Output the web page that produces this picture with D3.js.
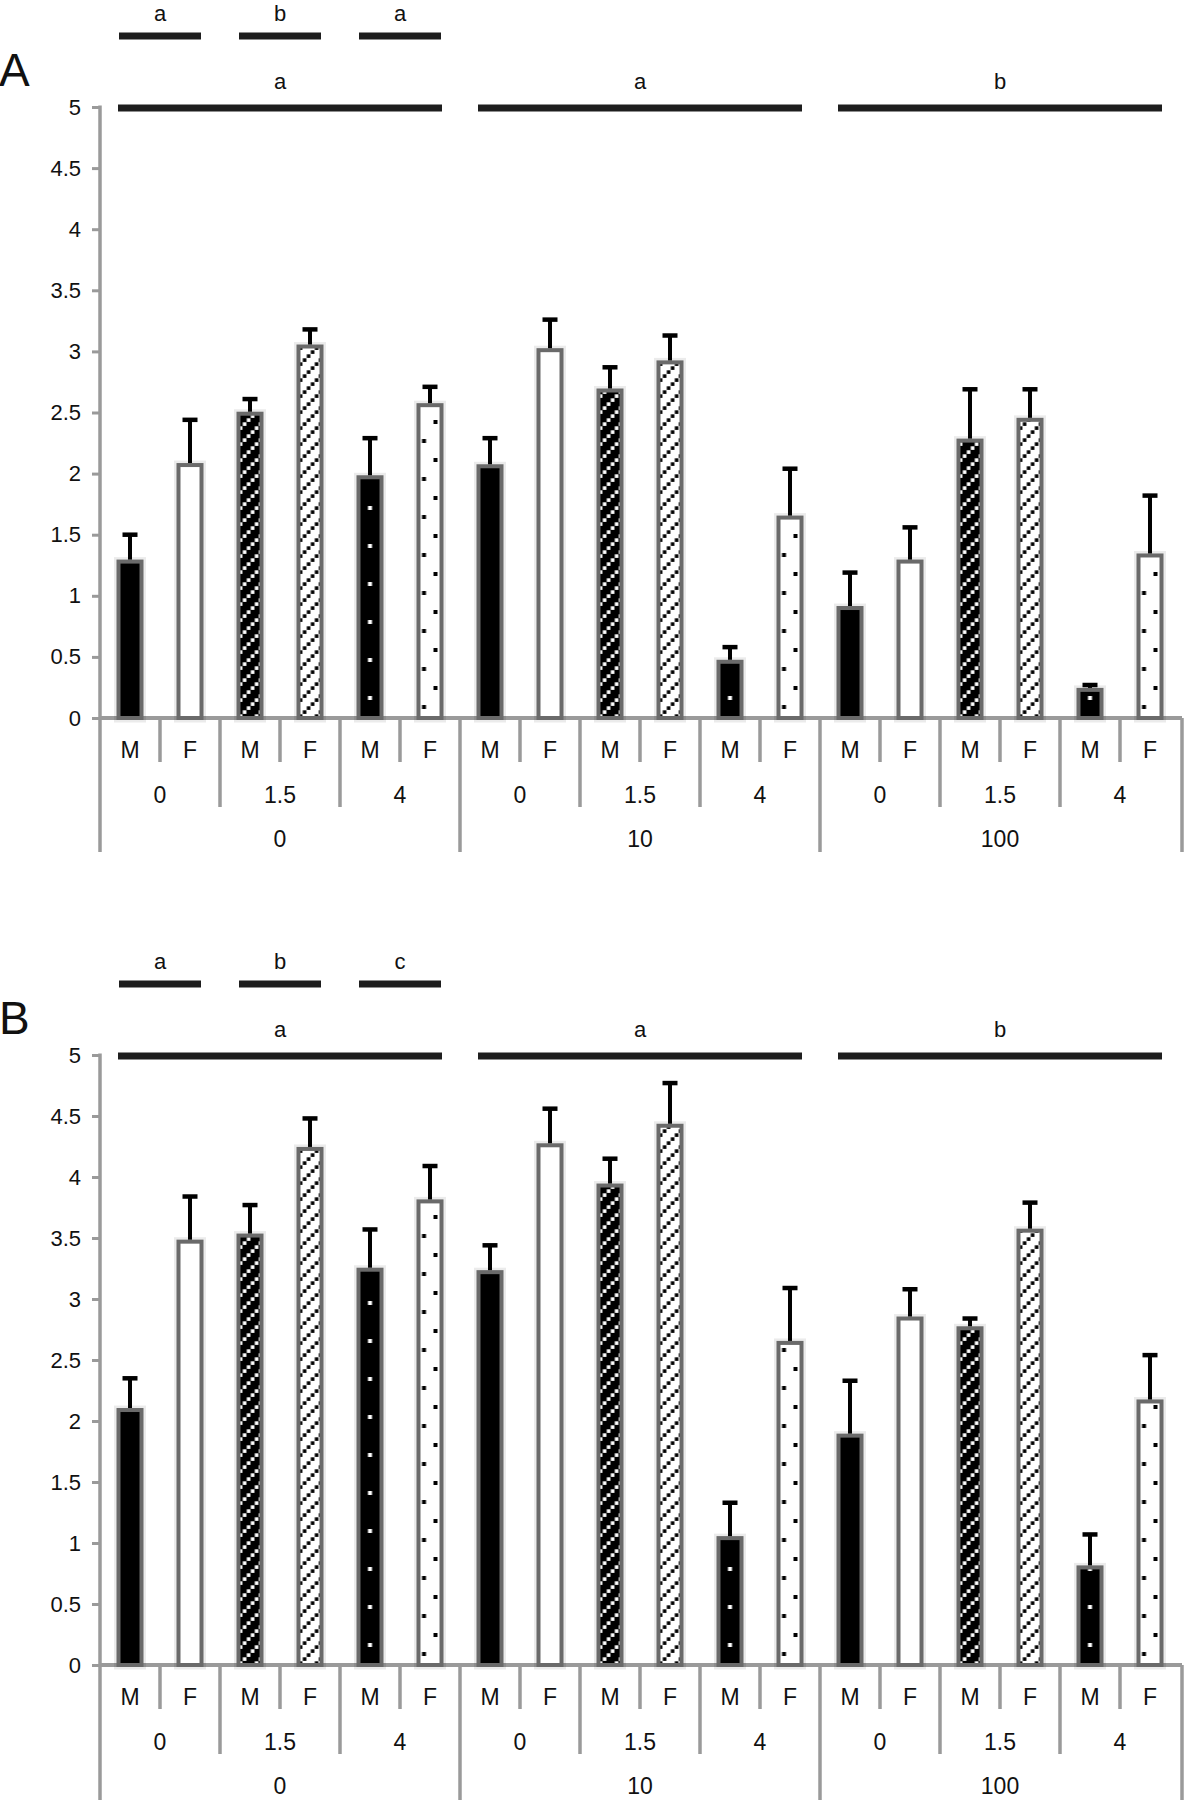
<!DOCTYPE html>
<html>
<head>
<meta charset="utf-8">
<script src="https://cdn.jsdelivr.net/npm/d3@7"></script>
<style>
  body { margin: 0; background: #fff; }
  text { font-family: "Liberation Sans", Arial, Helvetica, sans-serif; fill: #111; }
</style>
</head>
<body>
<svg id="chart" width="1188" height="1800"></svg>
<script>
// categories
const groups = ["0", "10", "100"];
const subgroups = ["0", "1.5", "4"];
const sexes = ["M", "F"];

// panel A: means and SE
const meanA = [1.28, 2.07, 2.49, 3.04, 1.97, 2.56,  2.06, 3.01, 2.68, 2.91, 0.46, 1.64,  0.90, 1.28, 2.27, 2.44, 0.23, 1.33];
const seA   = [0.22, 0.37, 0.12, 0.14, 0.32, 0.15,  0.23, 0.25, 0.19, 0.22, 0.12, 0.40,  0.29, 0.28, 0.42, 0.25, 0.04, 0.49];
// panel B
const meanB = [2.09, 3.47, 3.52, 4.23, 3.24, 3.80,  3.22, 4.26, 3.93, 4.42, 1.04, 2.64,  1.88, 2.84, 2.76, 3.56, 0.80, 2.16];
const seB   = [0.26, 0.37, 0.25, 0.25, 0.33, 0.29,  0.22, 0.30, 0.22, 0.35, 0.29, 0.45,  0.45, 0.24, 0.08, 0.23, 0.27, 0.38];

// significance letters
const subLettersA = ["a", "b", "a"];
const groupLettersA = ["a", "a", "b"];
const subLettersB = ["a", "b", "c"];
const groupLettersB = ["a", "a", "b"];

const yTicks = [0, 0.5, 1, 1.5, 2, 2.5, 3, 3.5, 4, 4.5, 5];

const svg = d3.select("#chart");
const gray = "#9a9a9a";

// fill patterns
const defs = svg.append("defs");

function hatch(id, bg, fg) {
  const p = defs.append("pattern").attr("id", id)
    .attr("patternUnits", "userSpaceOnUse")
    .attr("width", 16).attr("height", 16);
  p.append("rect").attr("width", 16).attr("height", 16).attr("fill", bg);
  [[0, 12], [4, 8], [8, 4], [12, 0]].forEach(([a, b]) => {
    p.append("rect").attr("x", a + 0.3).attr("y", b + 0.3).attr("width", 3.6).attr("height", 3.6).attr("fill", fg);
  });
}
hatch("hatchDark", "#000", "#fff");
hatch("hatchLight", "#fff", "#000");

let pd = defs.append("pattern").attr("id", "dotsDark")
  .attr("patternUnits", "userSpaceOnUse").attr("width", 24).attr("height", 38);
pd.append("rect").attr("width", 24).attr("height", 38).attr("fill", "#000");
pd.append("rect").attr("x", 9.5).attr("y", -22).attr("width", 4).attr("height", 4).attr("fill", "#fff");
pd.append("rect").attr("x", 9.5).attr("y", 16).attr("width", 4).attr("height", 4).attr("fill", "#fff");

let pl = defs.append("pattern").attr("id", "dotsLight")
  .attr("patternUnits", "userSpaceOnUse").attr("width", 24).attr("height", 38);
pl.append("rect").attr("width", 24).attr("height", 38).attr("fill", "#fff");
pl.append("rect").attr("x", 15).attr("y", 6).attr("width", 4).attr("height", 4).attr("fill", "#000");
pl.append("rect").attr("x", 3.5).attr("y", 25).attr("width", 4).attr("height", 4).attr("fill", "#000");

const fills = {
  "0":   { M: "#000", F: "#fff" },
  "1.5": { M: "url(#hatchDark)", F: "url(#hatchLight)" },
  "4":   { M: "url(#dotsDark)", F: "url(#dotsLight)" }
};

// 18 categories: group x subgroup x sex
const cats = [];
groups.forEach(g => subgroups.forEach(s => sexes.forEach(m => cats.push({ g, s, m }))));

const x = d3.scaleBand().domain(d3.range(cats.length)).range([100, 1180]);
const bw = x.bandwidth();

function drawPanel(opt) {
  const y = d3.scaleLinear().domain([0, 5]).range([opt.y0, opt.y5]);
  const g = svg.append("g");

  // panel letter
  g.append("text").attr("x", -1).attr("y", opt.y5 - 21)
    .style("font-size", "46px").text(opt.letter);

  // y axis
  const ax = g.append("g").attr("transform", "translate(100,0)")
    .call(d3.axisLeft(y).tickValues(yTicks).tickFormat(d3.format("~g")).tickSize(8).tickPadding(11));
  ax.select(".domain").remove();
  ax.selectAll(".tick line").attr("stroke", gray).attr("stroke-width", 3);
  ax.selectAll(".tick text").style("font-size", "22px").attr("fill", "#111")
    .style("font-family", "'Liberation Sans', Arial, sans-serif");

  g.append("line").attr("x1", 100).attr("x2", 100).attr("y1", y(5) - 1.5).attr("y2", opt.bottom)
    .attr("stroke", gray).attr("stroke-width", 3.5);
  g.append("line").attr("x1", 100).attr("x2", 1182).attr("y1", opt.y0).attr("y2", opt.y0)
    .attr("stroke", gray).attr("stroke-width", 4);

  // category separators
  d3.range(1, cats.length + 1).forEach(k => {
    const xx = k === cats.length ? 1182 : x(k);
    const end = k % 6 === 0 ? opt.bottom : k % 2 === 0 ? opt.y0 + 89 : opt.y0 + 44;
    g.append("line").attr("x1", xx).attr("x2", xx).attr("y1", opt.y0).attr("y2", end)
      .attr("stroke", gray).attr("stroke-width", 3.5);
  });

  // category labels
  g.selectAll(".sexlab").data(cats).enter().append("text")
    .attr("x", (d, i) => x(i) + bw / 2).attr("y", opt.y0 + 40)
    .attr("text-anchor", "middle").style("font-size", "23px").text(d => d.m);
  d3.range(9).forEach(k => {
    g.append("text").attr("x", x(k * 2) + bw).attr("y", opt.y0 + 85)
      .attr("text-anchor", "middle").style("font-size", "23px").text(subgroups[k % 3]);
  });
  groups.forEach((gr, k) => {
    g.append("text").attr("x", x(k * 6) + bw * 3).attr("y", opt.y0 + 129)
      .attr("text-anchor", "middle").style("font-size", "23px").text(gr);
  });

  // bars
  const barW = 23;
  const bars = g.selectAll(".bar").data(cats).enter().append("g")
    .attr("transform", (d, i) => `translate(${x(i) + bw / 2 - barW / 2},${opt.y0})`);
  bars.append("rect")
    .attr("x", 0).attr("width", barW)
    .attr("y", (d, i) => y(opt.mean[i]) - opt.y0)
    .attr("height", (d, i) => opt.y0 - y(opt.mean[i]))
    .attr("fill", "none").attr("stroke", "#000").attr("stroke-opacity", 0.08).attr("stroke-width", 9);
  bars.append("rect")
    .attr("x", 0).attr("width", barW)
    .attr("y", (d, i) => y(opt.mean[i]) - opt.y0)
    .attr("height", (d, i) => opt.y0 - y(opt.mean[i]))
    .attr("fill", d => fills[d.s][d.m])
    .attr("stroke", "#6a6a6a").attr("stroke-width", 4);

  // error bars
  cats.forEach((d, i) => {
    const cx = x(i) + bw / 2;
    const top = y(opt.mean[i] + opt.se[i]);
    g.append("line").attr("x1", cx).attr("x2", cx).attr("y1", y(opt.mean[i]) - 2).attr("y2", top)
      .attr("stroke", "#000").attr("stroke-width", 4);
    g.append("line").attr("x1", cx - 7.5).attr("x2", cx + 7.5).attr("y1", top).attr("y2", top)
      .attr("stroke", "#000").attr("stroke-width", 4.5);
  });

  // significance bars: subgroups (within first group) and groups
  opt.subLetters.forEach((l, k) => {
    const x1 = x(k * 2) + 19, x2 = x(k * 2) + bw * 2 - 19;
    g.append("line").attr("x1", x1).attr("x2", x2).attr("y1", opt.y5 - 71).attr("y2", opt.y5 - 71)
      .attr("stroke", "#1e1e1e").attr("stroke-width", 7);
    g.append("text").attr("x", (x1 + x2) / 2).attr("y", opt.y5 - 86)
      .attr("text-anchor", "middle").style("font-size", "22px").text(l);
  });
  opt.groupLetters.forEach((l, k) => {
    const x1 = x(k * 6) + 18, x2 = x(k * 6) + bw * 6 - 18;
    g.append("line").attr("x1", x1).attr("x2", x2).attr("y1", opt.y5 + 1).attr("y2", opt.y5 + 1)
      .attr("stroke", "#1e1e1e").attr("stroke-width", 7);
    g.append("text").attr("x", (x1 + x2) / 2).attr("y", opt.y5 - 18)
      .attr("text-anchor", "middle").style("font-size", "22px").text(l);
  });
}

drawPanel({ letter: "A", y5: 107, y0: 718, bottom: 852, mean: meanA, se: seA,
  subLetters: subLettersA, groupLetters: groupLettersA });
drawPanel({ letter: "B", y5: 1055, y0: 1665, bottom: 1800, mean: meanB, se: seB,
  subLetters: subLettersB, groupLetters: groupLettersB });
</script>
</body>
</html>
